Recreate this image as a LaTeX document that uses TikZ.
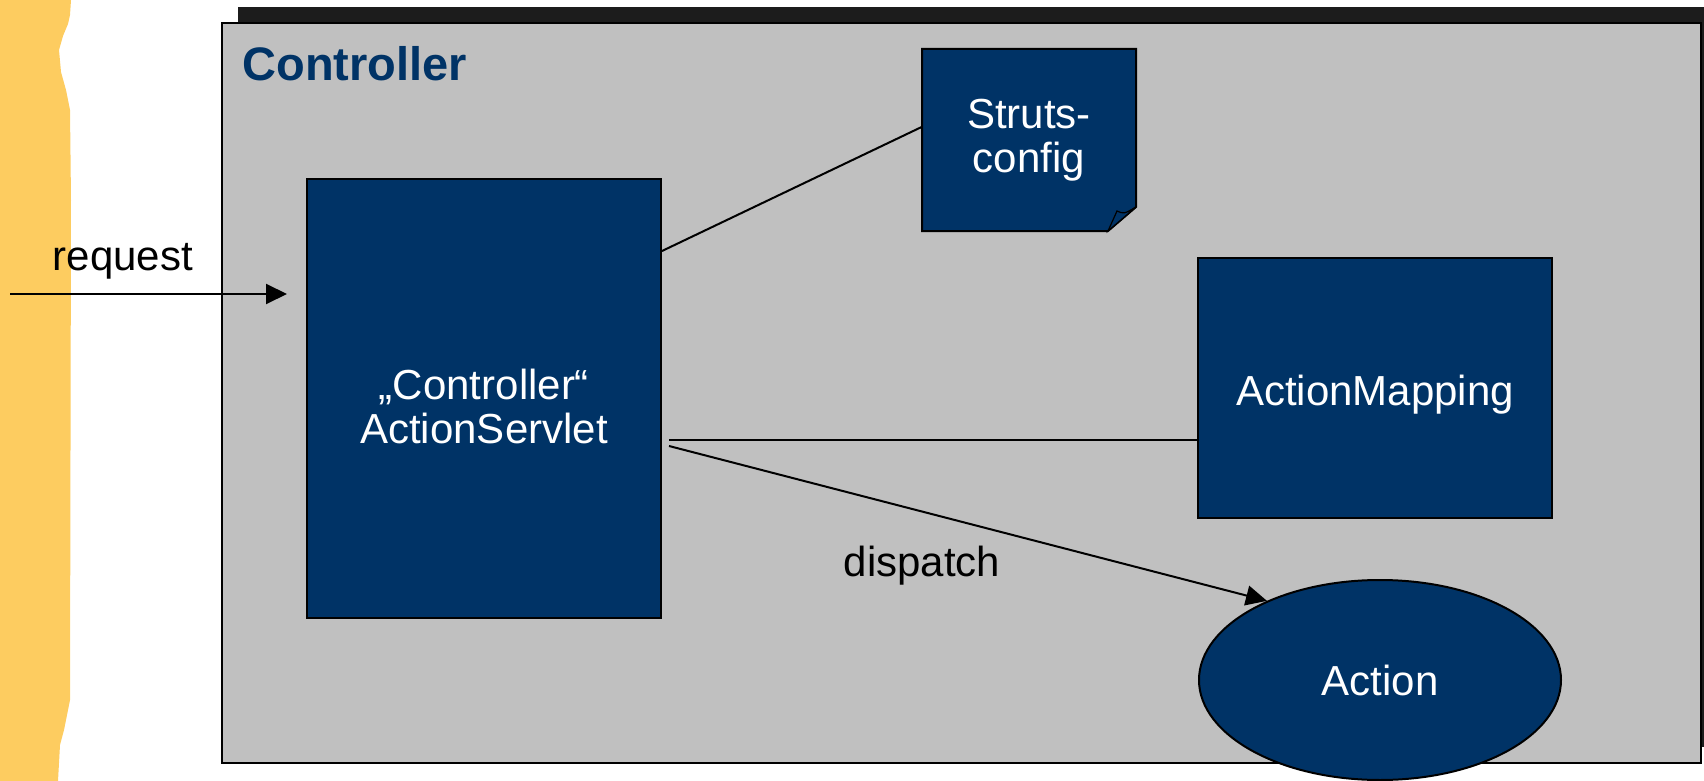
\documentclass[tikz,border=0pt]{standalone}
\usepackage{fontspec}
\setmainfont{Liberation Sans}
\usetikzlibrary{arrows.meta,shapes.geometric,shadows,positioning}
\definecolor{strutsblue}{HTML}{003366}
\definecolor{panelgray}{HTML}{C0C0C0}
\definecolor{shadegray}{HTML}{1C1C1C}
\definecolor{marginyellow}{HTML}{FDCC60}

\begin{document}
\begin{tikzpicture}[x=0.5pt,y=-0.5pt,
    comp/.style={draw, line width=1pt, fill=strutsblue, text=white, inner sep=0pt, align=center, font=\fontsize{21}{22}\selectfont},
    lbl/.style={inner sep=0pt, font=\fontsize{21}{22}\selectfont},
    conn/.style={line width=1pt},
    arr/.style={line width=1pt, -{Triangle[length=10.5pt,width=10pt]}}]
  \useasboundingbox (0,0) rectangle (1704,781);
  % ragged margin on the left
  \fill[marginyellow] (0,0) -- (71,0) -- (70,15) -- (68,24) -- (63,36) -- (59,50) -- (61,72) -- (66,90) -- (70,110)
    -- (71,200) -- (70,700) -- (67,715) -- (64,730) -- (60,745) -- (58,781) -- (0,781) -- cycle;
  \node[draw, line width=1pt, fill=panelgray, minimum width=739.5pt, minimum height=370pt, inner sep=0pt,
        drop shadow={shadow xshift=8pt, shadow yshift=8pt, fill=shadegray, opacity=1}] (ctrl) at (961.5,393) {};
  \node[below right=12pt and 10.5pt of ctrl.north west, inner sep=0pt, text=strutsblue,
        font=\bfseries\fontsize{23.5}{26}\selectfont] (title) {Controller};
  \node[comp, minimum width=177pt, minimum height=219.5pt,
        label={[lbl, text=white, align=center, yshift=-4pt]center:{„Controller“\\ActionServlet}}] (srv) at (484,398.5) {};
  % note with folded corner
  \filldraw[line width=1pt, fill=strutsblue] (922,49) -- (1136,49) -- (1136,207) -- (1108,231) -- (922,231) -- cycle;
  \filldraw[line width=0.6pt, fill=strutsblue] (1108,231) -- (1117,211) .. controls (1124,214) .. (1136,207) -- cycle;
  \node[lbl, text=white, align=center, minimum width=107pt, minimum height=91pt] (cfg) at (1029,140) {Struts-\\config};
  \node[comp, minimum width=177pt, minimum height=130pt,
        label={[lbl, text=white, yshift=-3.5pt]center:ActionMapping}] (map) at (1375,388) {};
  \node[comp, ellipse, minimum width=181pt, minimum height=100pt] (act) at (1380,680) {Action};
  % connectors
  \coordinate (reqin) at (10,294);
  \coordinate (reqtip) at (287,294);
  \draw[arr] (reqin) -- (reqtip);
  \node[lbl] (reqlbl) at (123,261) {request};
  \draw[conn] ([yshift=-36.5pt]srv.north east) -- ([yshift=6.5pt]cfg.west);
  \draw[conn] ([shift={(3.5pt,-20.75pt)}]srv.east) -- ([yshift=-26pt]map.west);
  \draw[arr] ([shift={(3.5pt,-23.75pt)}]srv.east) -- (act.145);
  \node[lbl] (dsp) at (922,566) {dispatch};
\end{tikzpicture}
\end{document}
